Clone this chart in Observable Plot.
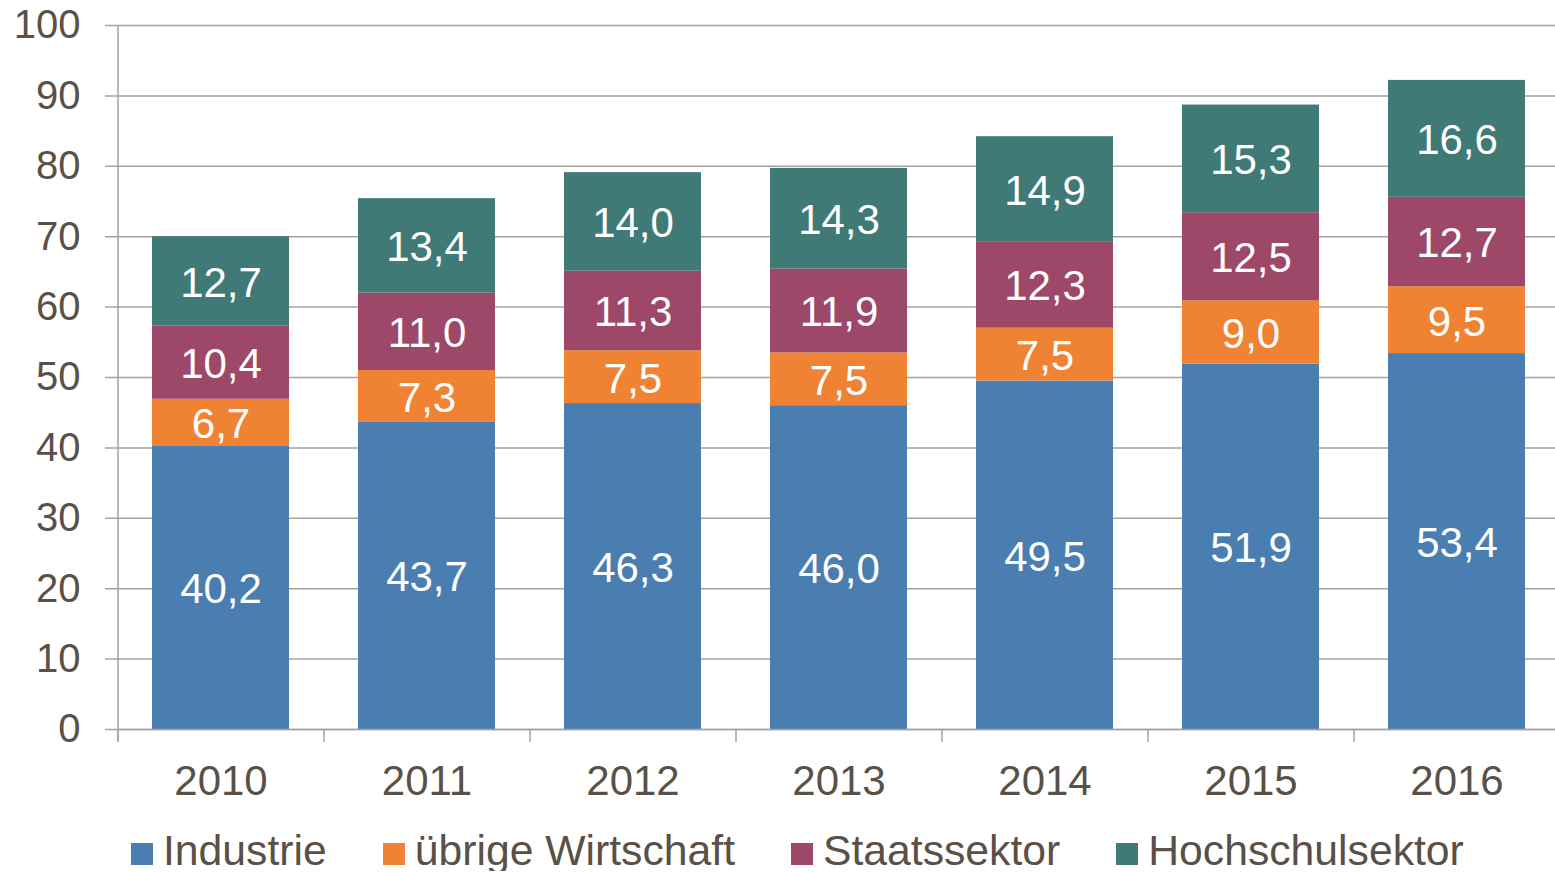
<!DOCTYPE html>
<html><head><meta charset="utf-8">
<script src="https://cdn.jsdelivr.net/npm/d3@7"></script>
<script src="https://cdn.jsdelivr.net/npm/@observablehq/plot@0.6"></script>
<style>
body{margin:0;background:#fff;font-family:"Liberation Sans",Arial,sans-serif;overflow:hidden}
#legend{display:flex;padding-left:131px;padding-top:2px;font-size:42.7px;line-height:42px;color:#595047;white-space:nowrap}
.item{margin-right:56px}
.sw{display:inline-block;width:22px;height:22px;margin-right:10px}
</style></head><body><div id="chart"></div><div id="legend"></div>
<script>
const years = ["2010","2011","2012","2013","2014","2015","2016"];
const series = ["Industrie","übrige Wirtschaft","Staatssektor","Hochschulsektor"];
const industrie = [40.2,43.7,46.3,46.0,49.5,51.9,53.4];
const uebrige = [6.7,7.3,7.5,7.5,7.5,9.0,9.5];
const staat = [10.4,11.0,11.3,11.9,12.3,12.5,12.7];
const hochschule = [12.7,13.4,14.0,14.3,14.9,15.3,16.6];
const colors = ["#4A7EB0","#EF8333","#9D4868","#3F7A77"];
const yTicks = [0,10,20,30,40,50,60,70,80,90,100];

const seriesValues = [industrie, uebrige, staat, hochschule];
const data = [];
series.forEach((s, si) => years.forEach((y, yi) => data.push({year: y, series: s, value: seriesValues[si][yi]})));

const W = 1555, H = 827, mL = 118, mR = 0, mT = 25, mB = 98;
const xRight = 1560;
const step = (xRight - mL) / years.length;
const grid = "#A6A39E", txt = "#595047";
const fmt = v => v.toFixed(1).replace(".", ",");

const chart = Plot.plot({
  width: W, height: H,
  marginLeft: mL, marginRight: mR, marginTop: mT, marginBottom: mB,
  style: {fontFamily: '"Liberation Sans", Arial, sans-serif', background: "#fff", color: txt},
  x: {domain: years, range: [mL, xRight], paddingInner: 1/3, paddingOuter: 1/6, label: null},
  y: {domain: [0, 100], label: null},
  color: {domain: series, range: colors},
  marks: [
    Plot.gridY(yTicks, {stroke: grid, strokeOpacity: 1, strokeWidth: 1.5, insetLeft: -13}),
    Plot.axisY(yTicks, {tickSize: 0, tickPadding: 38, fontSize: 40, fill: txt, label: null}),
    Plot.barY(data, {x: "year", y: "value", fill: "series", order: series}),
    Plot.text(data, Plot.stackY({x: "year", y: "value", z: "series", order: series, text: d => fmt(d.value), fill: "white", fontSize: 42, dy: 2})),
    Plot.ruleY([0], {stroke: grid, strokeWidth: 1.5}),
    Plot.ruleX(years, {x: d => d, dx: -step / 2, y1: 0, y2: 0, insetBottom: -13, stroke: grid, strokeWidth: 1.5}),
    Plot.ruleX([years[0]], {x: d => d, dx: -step / 2, y1: 100, y2: 0, insetBottom: -13, stroke: grid, strokeWidth: 1.5}),
    Plot.axisX({tickSize: 0, tickPadding: 36, fontSize: 42, fill: txt, label: null})
  ]
});
document.getElementById("chart").appendChild(chart);

const legend = document.getElementById("legend");
series.forEach((s, i) => {
  const it = document.createElement("span");
  it.className = "item";
  const sw = document.createElement("span");
  sw.className = "sw";
  sw.style.background = colors[i];
  it.appendChild(sw);
  it.appendChild(document.createTextNode(s));
  legend.appendChild(it);
});
</script></body></html>
